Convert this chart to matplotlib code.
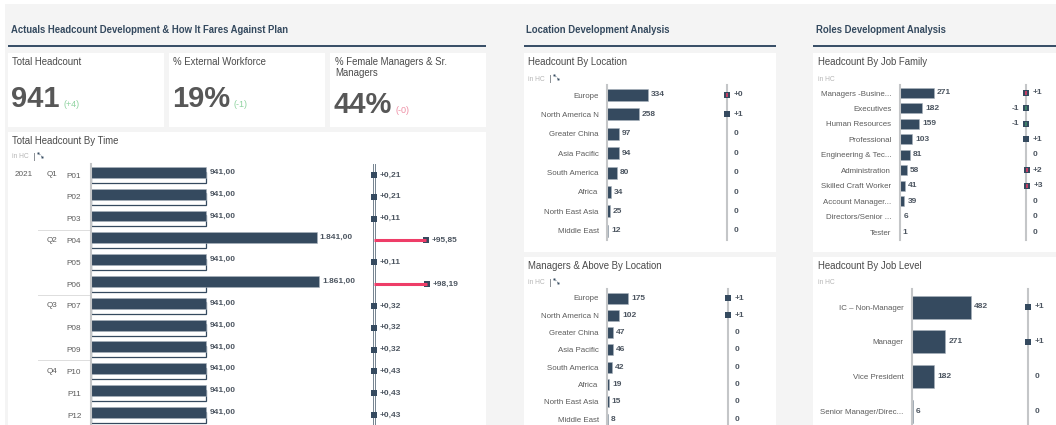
import matplotlib
matplotlib.use('Agg')
import matplotlib.pyplot as plt
from matplotlib.patches import Rectangle
from matplotlib.transforms import blended_transform_factory

plt.rcParams['font.family'] = ['Liberation Sans', 'DejaVu Sans']

# Total headcount by time
periods = ['P01', 'P02', 'P03', 'P04', 'P05', 'P06', 'P07', 'P08', 'P09', 'P10', 'P11', 'P12']
quarters = {'Q1': 0, 'Q2': 3, 'Q3': 6, 'Q4': 9}
actual_hc = [941, 941, 941, 1841, 941, 1861, 941, 941, 941, 941, 941, 941]
plan_hc = [939, 939, 940, 940, 940, 939, 938, 938, 938, 937, 937, 937]
actual_labels = ['941,00', '941,00', '941,00', '1.841,00', '941,00', '1.861,00',
                 '941,00', '941,00', '941,00', '941,00', '941,00', '941,00']
var_pct = [0.21, 0.21, 0.11, 95.85, 0.11, 98.19, 0.32, 0.32, 0.32, 0.43, 0.43, 0.43]
var_pct_labels = ['+0,21', '+0,21', '+0,11', '+95,85', '+0,11', '+98,19',
                  '+0,32', '+0,32', '+0,32', '+0,43', '+0,43', '+0,43']

# Location panels
locations = ['Europe', 'North America N', 'Greater China', 'Asia Pacific',
             'South America', 'Africa', 'North East Asia', 'Middle East']
loc_hc = [334, 258, 97, 94, 80, 34, 25, 12]
loc_var = [0, 1, 0, 0, 0, 0, 0, 0]
loc_var_labels = ['+0', '+1', '0', '0', '0', '0', '0', '0']
loc_marked = [True, True, False, False, False, False, False, False]
loc_inner = ['red', None, None, None, None, None, None, None]
mgr_hc = [175, 102, 47, 46, 42, 19, 15, 8]
mgr_var = [1, 1, 0, 0, 0, 0, 0, 0]
mgr_var_labels = ['+1', '+1', '0', '0', '0', '0', '0', '0']
mgr_marked = [True, True, False, False, False, False, False, False]
mgr_inner = [None] * 8

# Role panels
families = ['Managers -Busine...', 'Executives', 'Human Resources', 'Professional',
            'Engineering & Tec...', 'Administration', 'Skilled Craft Worker',
            'Account Manager...', 'Directors/Senior ...', 'Tester']
family_hc = [271, 182, 159, 103, 81, 58, 41, 39, 6, 1]
family_var = [1, -1, -1, 1, 0, 2, 3, 0, 0, 0]
family_var_labels = ['+1', '-1', '-1', '+1', '0', '+2', '+3', '0', '0', '0']
family_marked = [True, True, True, True, False, True, True, False, False, False]
family_inner = ['red', 'green', 'green', None, None, 'red', 'red', None, None, None]
levels = ['IC – Non-Manager', 'Manager', 'Vice President', 'Senior Manager/Direc...']
level_hc = [482, 271, 182, 6]
level_var = [1, 1, 0, 0]
level_var_labels = ['+1', '+1', '0', '0']
level_marked = [True, True, False, False]
level_inner = [None] * 4

NAVY = '#354a5f'
TEXT = '#5c5c5c'
VALUE = '#4d5661'
AXIS = '#c4c6c8'
RED = '#ee3d68'
W, H = 1056, 425


def px_axes(left, top, right, bottom, base, scale, y0, pitch):
    # axes placed in pixels, with limits so one value unit is `scale` pixels
    ax = fig.add_axes([left / W, 1 - bottom / H, (right - left) / W, (bottom - top) / H])
    ax.patch.set_alpha(0)
    ax.set_xlim((left - base) / scale, (right - base) / scale)
    ax.set_ylim((bottom - y0) / pitch, (top - y0) / pitch)
    for side in ['top', 'right', 'bottom']:
        ax.spines[side].set_visible(False)
    ax.spines['left'].set_position(('data', 0))
    ax.spines['left'].set_color(AXIS)
    ax.spines['left'].set_linewidth(1.5)
    ax.set_xticks([])
    return ax


def value_label(ax, x, y, text, size=6, dx=2.2):
    ax.annotate(text, (x, y), xytext=(dx, 0), textcoords='offset points', va='center',
                ha='left', fontsize=size, fontweight='bold', color=VALUE)


def bar_chart(labels, values, base, scale, top, bottom, y0, pitch, bar_h):
    ax = px_axes(base - 1, top, base + 110, bottom, base, scale, y0, pitch)
    rows = list(range(len(labels)))
    ax.barh(rows, values, height=bar_h / pitch, color=NAVY, edgecolor='#aab4be', linewidth=0.4)
    ax.set_yticks(rows, labels)
    ax.tick_params(axis='y', length=0, pad=6, labelsize=5.7, labelcolor=TEXT)
    for row, v in zip(rows, values):
        value_label(ax, v, row, str(v))
    return ax


def var_chart(var, var_labels, marked, inner, base, top, bottom, y0, pitch):
    ax = px_axes(base - 30, top, base + 30, bottom, base, 1.0, y0, pitch)
    ax.set_yticks([])
    for row, (v, text) in enumerate(zip(var, var_labels)):
        if marked[row]:
            ax.plot(v * 0.3, row, 's', color=NAVY, ms=3.8, mew=0, zorder=4)
        if inner[row]:
            ax.plot(v * 0.3, row, '|', color=RED if inner[row] == 'red' else '#3f8f6a', ms=2.8, mew=1.1, zorder=5)
        if v < 0:
            ax.annotate(text, (v * 0.3, row), xytext=(-4.5, 0), textcoords='offset points',
                        va='center', ha='right', fontsize=6, color=VALUE, fontweight='bold')
        else:
            ax.annotate(text, (v * 0.3, row), xytext=(4.5, 0), textcoords='offset points',
                        va='center', ha='left', fontsize=6, color=VALUE, fontweight='bold')
    return ax


def card_title(x, y, text):
    bg.text(x, y, text, fontsize=6.95, color='#4a4a4a', va='center')


def unit_tag(x, y, icon=True):
    bg.text(x, y, 'in HC', fontsize=4.8, color='#b5b5b5', va='center')
    if icon:
        bg.plot([x + 22, x + 22], [y - 4, y + 3], color='#8a8f94', lw=0.7)
        bg.plot([x + 26, x + 30], [y - 4, y - 0.5], color=NAVY, lw=0.6, ls=':', marker='s', ms=1.4, mew=0)


fig = plt.figure(figsize=(W / 100, H / 100), dpi=100, facecolor='white')
bg = fig.add_axes([0, 0, 1, 1])
bg.set_xlim(0, W)
bg.set_ylim(H, 0)
bg.axis('off')

bg.add_patch(Rectangle((5, 4), W - 5, H - 4, color='#f4f4f4', lw=0))
for x0, y0, x1, y1 in [(8, 53, 164, 127), (169, 53, 325, 127), (330, 53, 486, 127), (8, 132, 486, 425),
                       (523.5, 53, 776, 252), (523.5, 257, 776, 425), (813, 53, 1056, 252), (813, 257, 1056, 425)]:
    bg.add_patch(Rectangle((x0, y0), x1 - x0, y1 - y0, color='white', lw=0))

# section headers
for x0, x1, tx, text in [(8, 486, 11, 'Actuals Headcount Development & How It Fares Against Plan'),
                         (523.5, 776, 526.5, 'Location Development Analysis'),
                         (813, 1056, 816.5, 'Roles Development Analysis')]:
    bg.text(tx, 29.5, text, fontsize=6.85, fontweight='bold', color='#34495e', va='center')
    bg.add_patch(Rectangle((x0, 45), x1 - x0, 2.2, color='#3a5068', lw=0))

# KPI tiles
card_title(12, 62, 'Total Headcount')
card_title(173, 62, '% External Workforce')
card_title(335, 62, '% Female Managers & Sr.')
card_title(335, 73, 'Managers')
for x, y, big, dx, small, col in [(11, 107, '941', 63, '(+4)', '#8fd3a0'),
                                  (172, 107, '19%', 234, '(-1)', '#8fd3a0'),
                                  (333, 113, '44%', 395, '(-0)', '#ee8fa5')]:
    bg.text(x, y, big, fontsize=21, fontweight='bold', color='#575757', va='baseline')
    bg.text(dx, y, small, fontsize=6.5, color=col, va='baseline')

# Total headcount by time
card_title(12, 141, 'Total Headcount By Time')
unit_tag(12, 157)
T_Y0, T_PITCH = 175, 21.82
ax = px_axes(90, 164, 360, 425, 91, 0.1225, T_Y0, T_PITCH)
rows = list(range(len(periods)))
ax.barh([r + 0.1 for r in rows], plan_hc, height=0.52, color='white', edgecolor=NAVY, linewidth=0.9)
ax.barh([r - 0.12 for r in rows], actual_hc, height=0.5, color=NAVY, edgecolor='#aab4be', linewidth=0.4)
ax.set_yticks(rows, periods)
ax.tick_params(axis='y', length=0, pad=7, labelsize=5.9, labelcolor=TEXT)
for r, v, text in zip(rows, actual_hc, actual_labels):
    value_label(ax, v, r - 0.12, text)
trans = blended_transform_factory(bg.transData, ax.transData)
ax.text(23.5, 0, '2021', transform=trans, fontsize=5.9, color=TEXT, ha='center', va='center')
for q, r in quarters.items():
    ax.text(52, r, q, transform=trans, fontsize=5.9, color=TEXT, ha='center', va='center')
    if r > 0:
        ax.plot([38, 90], [r - 0.5, r - 0.5], transform=trans, color='#dddddd', lw=0.7, clip_on=False)

ax = px_axes(360, 164, 480, 425, 374, 0.54, T_Y0, T_PITCH)
ax.spines['left'].set_visible(False)
ax.set_yticks([])
ax.axvline(-2, color='#74838f', lw=0.7)
ax.axvline(2, color='#74838f', lw=0.7)
for r, v, text in zip(rows, var_pct, var_pct_labels):
    ax.plot(v, r, 's', color=NAVY, ms=3.8, mew=0)
    if v > 5:
        ax.plot([0, v], [r, r], color=RED, lw=2.2, solid_capstyle='butt')
    ax.annotate(text, (v, r), xytext=(4.2, 0), textcoords='offset points', va='center',
                fontsize=6, fontweight='bold', color=VALUE)

# Location panels
card_title(527.5, 62, 'Headcount By Location')
unit_tag(528, 79)
bar_chart(locations, loc_hc, 607, 0.1228, 85, 240, 95, 19.4, 12)
var_chart(loc_var, loc_var_labels, loc_marked, loc_inner, 727, 85, 240, 95, 19.4)

card_title(527.5, 266, 'Managers & Above By Location')
unit_tag(528, 283)
bar_chart(locations, mgr_hc, 607, 0.12, 289, 425, 298, 17.3, 11)
var_chart(mgr_var, mgr_var_labels, mgr_marked, mgr_inner, 728, 289, 425, 298, 17.3)

# Role panels
card_title(817.5, 62, 'Headcount By Job Family')
unit_tag(817.5, 79, icon=False)
bar_chart(families, family_hc, 899.5, 0.1255, 85, 240, 93, 15.45, 10)
var_chart(family_var, family_var_labels, family_marked, family_inner, 1026, 85, 240, 93, 15.45)

card_title(817.5, 266, 'Headcount By Job Level')
unit_tag(817.5, 283, icon=False)
bar_chart(levels, level_hc, 912, 0.1224, 289, 425, 307, 34.7, 23)
var_chart(level_var, level_var_labels, level_marked, level_inner, 1028, 289, 425, 307, 34.7)

plt.savefig('out.png', dpi=100)
